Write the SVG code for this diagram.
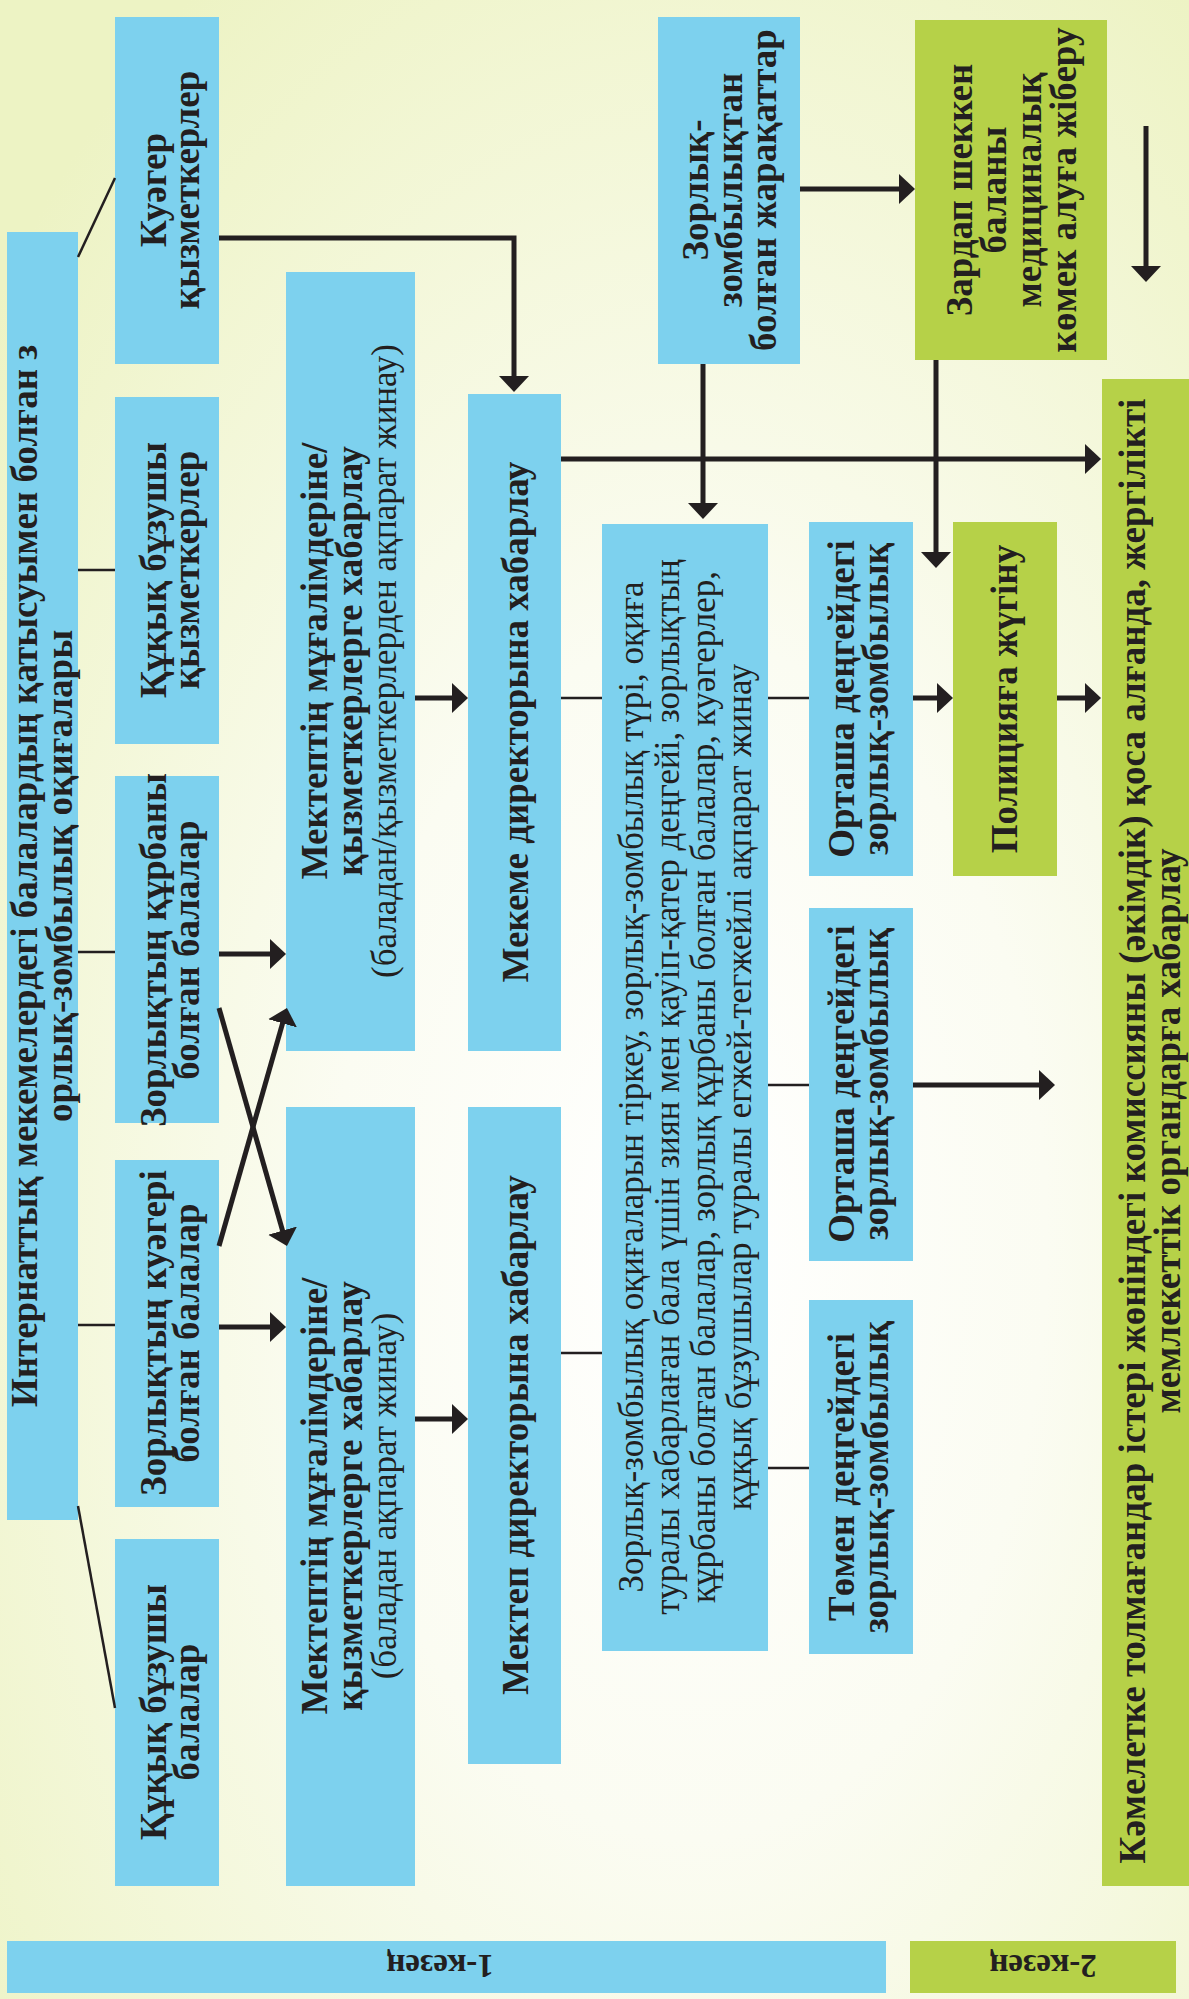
<svg xmlns="http://www.w3.org/2000/svg" width="1189" height="1999" viewBox="0 0 1189 1999">
<defs>
<radialGradient id="bg" cx="0.58" cy="0.62" r="0.75">
<stop offset="0" stop-color="#ffffff"/>
<stop offset="0.4" stop-color="#fbfcf2"/>
<stop offset="1" stop-color="#edf3c4"/>
</radialGradient>
<marker id="ah" markerUnits="userSpaceOnUse" markerWidth="18" markerHeight="30" refX="6" refY="15" orient="auto" viewBox="0 0 18 30">
<path d="M0,0 L16,15 L0,30 Z" fill="#231f20"/>
</marker>
<style>
.b{fill:#7dd1ee}
.g{fill:#b6d148}
text{font-family:"Liberation Serif","DejaVu Serif",serif;fill:#231f20;text-anchor:middle}
.tb{font-weight:bold;font-size:37px}
.tr{font-weight:normal;font-size:35px}
.thin{stroke:#231f20;stroke-width:2.5;fill:none}
.arr{stroke:#231f20;stroke-width:5;fill:none;marker-end:url(#ah)}
</style>
</defs>
<rect x="0" y="0" width="1189" height="1999" fill="url(#bg)"/>

<g id="main">
<rect class="b" x="7" y="232" width="71" height="1288"/>
<text class="tb" transform="translate(0,876) rotate(-90)"><tspan x="0" y="37">Интернаттық мекемелердегі балалардың қатысуымен болған з</tspan><tspan x="0" y="72">орлық-зомбылық оқиғалары</tspan></text>
</g>

<g id="kuager-staff">
<rect class="b" x="115" y="17" width="104" height="347"/>
<text class="tb" transform="translate(0,190) rotate(-90)"><tspan x="0" y="166">Куәгер</tspan><tspan x="0" y="199">қызметкерлер</tspan></text>
</g>

<g id="offender-staff">
<rect class="b" x="115" y="397" width="104" height="347"/>
<text class="tb" transform="translate(0,570) rotate(-90)"><tspan x="0" y="166">Құқық бұзушы</tspan><tspan x="0" y="199">қызметкерлер</tspan></text>
</g>

<g id="victim-children">
<rect class="b" x="115" y="776" width="104" height="347"/>
<text class="tb" transform="translate(0,950) rotate(-90)"><tspan x="0" y="166">Зорлықтың құрбаны</tspan><tspan x="0" y="199">болған балалар</tspan></text>
</g>

<g id="witness-children">
<rect class="b" x="115" y="1160" width="104" height="347"/>
<text class="tb" transform="translate(0,1333) rotate(-90)"><tspan x="0" y="166">Зорлықтың куәгері</tspan><tspan x="0" y="199">болған балалар</tspan></text>
</g>

<g id="offender-children">
<rect class="b" x="115" y="1539" width="104" height="347"/>
<text class="tb" transform="translate(0,1712) rotate(-90)"><tspan x="0" y="166">Құқық бұзушы</tspan><tspan x="0" y="199">балалар</tspan></text>
</g>

<g id="teachers-upper">
<rect class="b" x="286" y="272" width="129" height="779"/>
<text transform="translate(0,661) rotate(-90)"><tspan class="tb" x="0" y="327">Мектептің мұғалімдеріне/</tspan><tspan class="tb" x="0" y="362">қызметкерлерге хабарлау</tspan><tspan class="tr" x="0" y="396">(баладан/қызметкерлерден ақпарат жинау)</tspan></text>
</g>

<g id="teachers-lower">
<rect class="b" x="286" y="1107" width="129" height="779"/>
<text transform="translate(0,1496) rotate(-90)"><tspan class="tb" x="0" y="327">Мектептің мұғалімдеріне/</tspan><tspan class="tb" x="0" y="362">қызметкерлерге хабарлау</tspan><tspan class="tr" x="0" y="396">(баладан ақпарат жинау)</tspan></text>
</g>

<g id="institution-director">
<rect class="b" x="468" y="394" width="93" height="657"/>
<text class="tb" transform="translate(0,722) rotate(-90)"><tspan x="0" y="528">Мекеме директорына хабарлау</tspan></text>
</g>

<g id="school-director">
<rect class="b" x="468" y="1107" width="93" height="657"/>
<text class="tb" transform="translate(0,1435) rotate(-90)"><tspan x="0" y="528">Мектеп директорына хабарлау</tspan></text>
</g>

<g id="register">
<rect class="b" x="602" y="524" width="166" height="1127"/>
<text class="tr" transform="translate(0,1087) rotate(-90)"><tspan x="0" y="643">Зорлық-зомбылық оқиғаларын тіркеу, зорлық-зомбылық түрі, оқиға</tspan><tspan x="0" y="679">туралы хабарлаған бала үшін зиян мен қауіп-қатер деңгейі, зорлықтың</tspan><tspan x="0" y="715">құрбаны болған балалар, зорлық құрбаны болған балалар, куәгерлер,</tspan><tspan x="0" y="751">құқық бұзушылар туралы егжей-тегжейлі ақпарат жинау</tspan></text>
</g>

<g id="injuries">
<rect class="b" x="658" y="17" width="142" height="347"/>
<text class="tb" transform="translate(0,190) rotate(-90)"><tspan x="0" y="708">Зорлық-</tspan><tspan x="0" y="742">зомбылықтан</tspan><tspan x="0" y="776">болған жарақаттар</tspan></text>
</g>

<g id="medical">
<rect class="g" x="915" y="20" width="192" height="340"/>
<text class="tb" transform="translate(0,190) rotate(-90)"><tspan x="0" y="972">Зардап шеккен</tspan><tspan x="0" y="1006">баланы</tspan><tspan x="0" y="1041">медициналық</tspan><tspan x="0" y="1076">көмек алуға жіберу</tspan></text>
</g>

<g id="medium-1">
<rect class="b" x="809" y="522" width="104" height="354"/>
<text class="tb" transform="translate(0,699) rotate(-90)"><tspan x="0" y="854">Орташа деңгейдегі</tspan><tspan x="0" y="888">зорлық-зомбылық</tspan></text>
</g>

<g id="medium-2">
<rect class="b" x="809" y="908" width="104" height="353"/>
<text class="tb" transform="translate(0,1084) rotate(-90)"><tspan x="0" y="854">Орташа деңгейдегі</tspan><tspan x="0" y="888">зорлық-зомбылық</tspan></text>
</g>

<g id="low">
<rect class="b" x="809" y="1300" width="104" height="354"/>
<text class="tb" transform="translate(0,1477) rotate(-90)"><tspan x="0" y="854">Төмен деңгейдегі</tspan><tspan x="0" y="888">зорлық-зомбылық</tspan></text>
</g>

<g id="police">
<rect class="g" x="953" y="522" width="104" height="354"/>
<text class="tb" transform="translate(0,699) rotate(-90)"><tspan x="0" y="1017">Полицияға жүгіну</tspan></text>
</g>

<g id="commission">
<rect class="g" x="1102" y="379" width="87" height="1507"/>
<text class="tb" transform="translate(0,1131) rotate(-90)"><tspan x="0" y="1145">Кәмелетке толмағандар істері жөніндегі комиссияны (әкімдік) қоса алғанда, жергілікті</tspan><tspan x="0" y="1180">мемлекеттік органдарға хабарлау</tspan></text>
</g>

<g id="stage-1">
<rect class="b" x="7" y="1941" width="879" height="52"/>
<text class="tb" transform="translate(440,1955) rotate(180)" style="font-size:33px">1-кезең</text>
</g>

<g id="stage-2">
<rect class="g" x="910" y="1941" width="266" height="52"/>
<text class="tb" transform="translate(1043,1955) rotate(180)" style="font-size:33px">2-кезең</text>
</g>

<g id="connectors">
<path class="thin" d="M78,257 L115,178"/>
<path class="thin" d="M78,570 H115"/>
<path class="thin" d="M78,952 H115"/>
<path class="thin" d="M78,1325 H115"/>
<path class="thin" d="M78,1506 L115,1708"/>
<path class="thin" d="M561,698 H602"/>
<path class="thin" d="M561,1353 H602"/>
<path class="thin" d="M768,698 H809"/>
<path class="thin" d="M768,1085 H809"/>
<path class="thin" d="M768,1468 H809"/>
<path class="arr" d="M219,238 H514 V382"/>
<path class="arr" d="M561,459 H1091"/>
<path class="arr" d="M800,189 H905"/>
<path class="arr" d="M703,364 V509"/>
<path class="arr" d="M936,360 V558"/>
<path class="arr" d="M1146,126 V272"/>
<path class="arr" d="M415,698 H458"/>
<path class="arr" d="M913,698 H943"/>
<path class="arr" d="M1057,698 H1091"/>
<path class="arr" d="M913,1085 H1045"/>
<path class="arr" d="M219,954 H276"/>
<path class="arr" d="M219,1327 H276"/>
<path class="arr" d="M415,1419 H458"/>
<path class="arr" d="M219,1008 L284.2,1236.4"/>
<path class="arr" d="M219,1246 L284.2,1017.6"/>
</g>
</svg>
